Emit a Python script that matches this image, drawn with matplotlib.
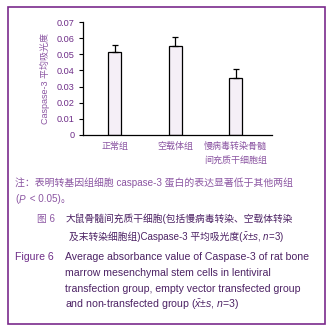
import matplotlib
matplotlib.use("Agg")
import matplotlib.pyplot as plt
from matplotlib.patches import Rectangle

plt.rcParams['font.family'] = ['Liberation Sans', 'Noto Sans CJK SC', 'DejaVu Sans']
plt.rcParams['mathtext.fontset'] = 'custom'
plt.rcParams['mathtext.it'] = 'Liberation Sans:italic'
plt.rcParams['mathtext.rm'] = 'Liberation Sans'

# data
groups = ["正常组", "空载体组", "慢病毒转染骨髓\n间充质干细胞组"]
means = [0.0514, 0.0551, 0.0352]
sds = [0.0043, 0.0056, 0.0056]
yticks = [0, 0.01, 0.02, 0.03, 0.04, 0.05, 0.06, 0.07]
ytick_labels = ["0", "0.01", "0.02", "0.03", "0.04", "0.05", "0.06", "0.07"]

PURPLE = "#6e2d88"
LIGHT_PURPLE = "#8b55a2"
TEXT_DARK = "#4d2365"
BORDER = "#7a2a8c"

W, H = 331, 332
fig = plt.figure(figsize=(W / 100, H / 100), dpi=100)
renderer = fig.canvas.get_renderer()

# outer frame
fig.patches.append(Rectangle((8 / W, 1 - 324 / H), 317 / W, 317 / H, transform=fig.transFigure,
                             fill=False, edgecolor=BORDER, linewidth=1.2))

ax = fig.add_axes([83 / W, 1 - 135 / H, 189 / W, 113 / H])
x = list(range(len(groups)))
ax.bar(x, means, width=0.215, color="#f5eff7", edgecolor="black", linewidth=0.9,
       yerr=[[0] * len(sds), sds], capsize=2.3, error_kw=dict(elinewidth=0.9, capthick=0.9, ecolor="black"))
ax.set_xlim(-0.52, 2.6)
ax.set_ylim(0, 0.07)
ax.set_yticks(yticks)
ax.set_yticklabels(ytick_labels, fontsize=6.6, color=PURPLE)
ax.tick_params(axis="y", length=3, width=0.8, pad=3)
ax.set_xticks(x)
ax.set_xticklabels(groups, fontsize=6.5, color=LIGHT_PURPLE, linespacing=1.75, va="top")
ax.tick_params(axis="x", length=0, pad=5)
for s in ["top", "right"]:
    ax.spines[s].set_visible(False)
for s in ["left", "bottom"]:
    ax.spines[s].set_linewidth(0.9)
ax.set_ylabel("Caspase-3 平均吸光度", fontsize=6.5, color=LIGHT_PURPLE, labelpad=5)


def ftext(px, py, parts, **kw):
    # parts: list of strings drawn one after another; CJK and mathtext kept apart
    if isinstance(parts, str):
        parts = [parts]
    for p in parts:
        t = fig.text(px / W, 1 - py / H, p, va="center", ha="left", **kw)
        px += t.get_window_extent(renderer).width


ftext(15, 183, "注：表明转基因组细胞 caspase-3 蛋白的表达显著低于其他两组", fontsize=7.1, color=LIGHT_PURPLE)
ftext(15, 199, ["(", "$P$", " < 0.05)", "。"], fontsize=7.1, color=LIGHT_PURPLE)

ftext(37, 219, "图 6", fontsize=7.0, color=LIGHT_PURPLE)
ftext(66, 219, "大鼠骨髓间充质干细胞(包括慢病毒转染、空载体转染", fontsize=7.0, color=TEXT_DARK)
ftext(69, 237, ["及末转染细胞组)Caspase-3 平均吸光度(", r"$\bar{x}$±$s$, $n$=3)"],
      fontsize=7.0, color=TEXT_DARK)

ftext(15, 257, "Figure 6", fontsize=7.6, color=PURPLE)
eng = ["Average absorbance value of Caspase-3 of rat bone",
       "marrow mesenchymal stem cells in lentiviral",
       "transfection group, empty vector transfected group",
       r"and non-transfected group ($\bar{x}$±$s$, $n$=3)"]
for i, line in enumerate(eng):
    ftext(65, 257 + 16 * i, line, fontsize=7.6, color=TEXT_DARK)

fig.savefig("out.png", dpi=100)
